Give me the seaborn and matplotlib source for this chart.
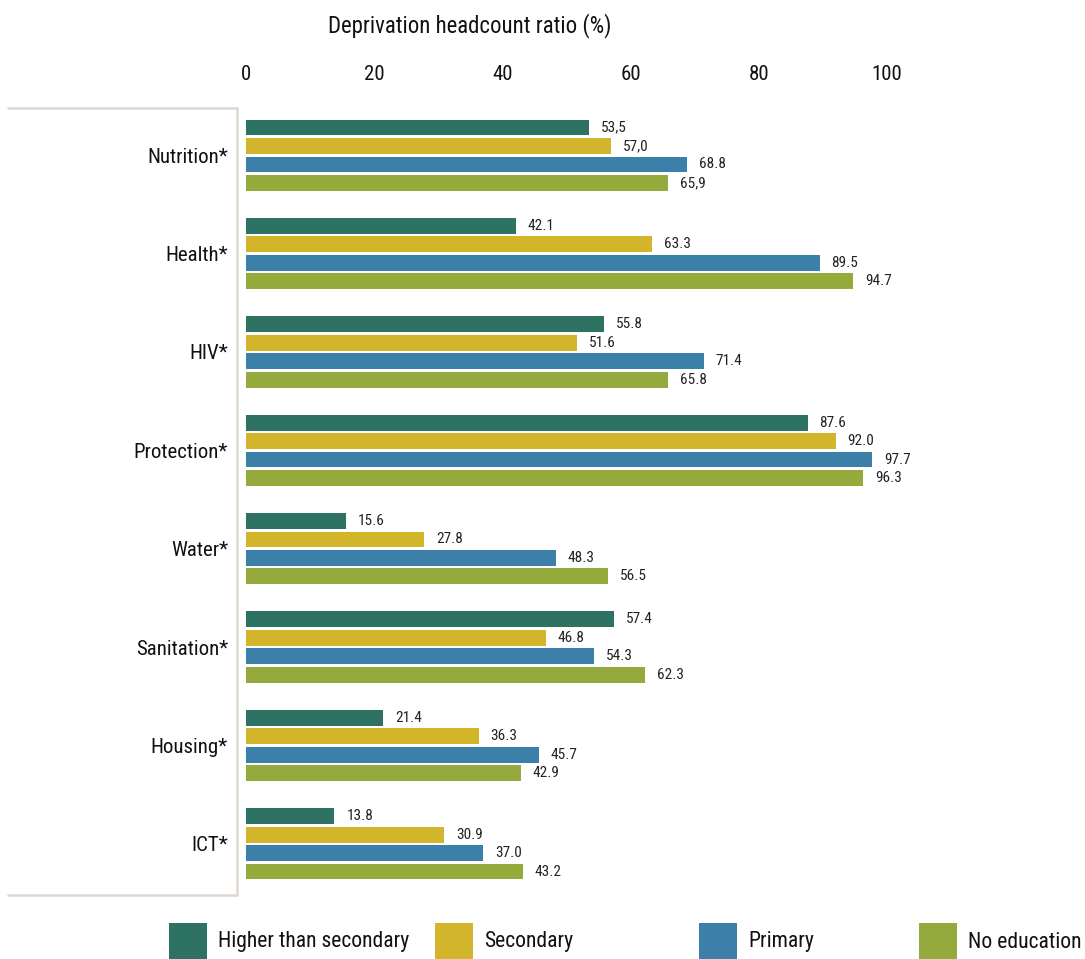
import pandas as pd
import seaborn as sns
import matplotlib.pyplot as plt
from matplotlib import font_manager
from matplotlib.lines import Line2D
from matplotlib.patches import Rectangle

# Datos
categorias = ["Nutrition*", "Health*", "HIV*", "Protection*", "Water*",
              "Sanitation*", "Housing*", "ICT*"]
niveles = ["Higher than secondary", "Secondary", "Primary", "No education"]

higher = [53.5, 42.1, 55.8, 87.6, 15.6, 57.4, 21.4, 13.8]
secondary = [57.0, 63.3, 51.6, 92.0, 27.8, 46.8, 36.3, 30.9]
primary = [68.8, 89.5, 71.4, 97.7, 48.3, 54.3, 45.7, 37.0]
no_education = [65.9, 94.7, 65.8, 96.3, 56.5, 62.3, 42.9, 43.2]

# Etiquetas tal como aparecen (algunas con coma decimal)
higher_labels = ["53,5", "42.1", "55.8", "87.6", "15.6", "57.4", "21.4", "13.8"]
secondary_labels = ["57,0", "63.3", "51.6", "92.0", "27.8", "46.8", "36.3", "30.9"]
primary_labels = ["68.8", "89.5", "71.4", "97.7", "48.3", "54.3", "45.7", "37.0"]
no_education_labels = ["65,9", "94.7", "65.8", "96.3", "56.5", "62.3", "42.9", "43.2"]

colores = ["#2e7263", "#d3b52b", "#3c80a9", "#95aa3c"]
ticks_x = [0, 20, 40, 60, 80, 100]

series = [higher, secondary, primary, no_education]
etiquetas = [higher_labels, secondary_labels, primary_labels, no_education_labels]

df = pd.DataFrame({
    "categoria": categorias * 4,
    "nivel": [n for n in niveles for _ in categorias],
    "valor": [v for s in series for v in s],
})

# Fuente condensada (la primera que esté instalada)
nombres = {f.name for f in font_manager.fontManager.ttflist}
fuente = next(f for f in ["Roboto Condensed", "Archivo Narrow", "Barlow Semi Condensed",
                          "DejaVu Sans"] if f in nombres)
sns.set_style("white")
plt.rcParams["font.family"] = [fuente, "DejaVu Sans"]

W, H = 1085, 959
fig = plt.figure(figsize=(W / 100, H / 100), dpi=100)
ax = fig.add_axes([246 / W, 1 - 895 / H, (887 - 246) / W, (895 - 108) / H])

sns.barplot(data=df, y="categoria", x="valor", hue="nivel", order=categorias,
            hue_order=niveles, palette=colores, orient="h", width=0.75,
            gap=0.14, saturation=1, linewidth=0, legend=False, ax=ax)

for cont, labs in zip(ax.containers, etiquetas):
    ax.bar_label(cont, labels=labs, padding=8.5, fontsize=11, color="#222222")

ax.set_xlim(0, 100)
ax.set_ylim(7.52, -0.48)
ax.set_xticks(ticks_x)
ax.xaxis.tick_top()
ax.tick_params(axis="x", length=0, labelsize=15, pad=17, labelcolor="#111111")
ax.tick_params(axis="y", length=0, labelsize=15, pad=13, labelcolor="#111111")
ax.set_xlabel("")
ax.set_ylabel("")
sns.despine(ax=ax, left=True, bottom=True, top=True, right=True)

fig.text(470 / W, 1 - 26 / H, "Deprivation headcount ratio (%)", ha="center",
         va="center", fontsize=16.4, color="#111111")

# Marco a la izquierda
marco = "#ddd7cf"
for xs, ys in [([8, 237], [108, 108]), ([237, 237], [108, 895]),
               ([8, 237], [895, 895])]:
    fig.add_artist(Line2D([x / W for x in xs], [1 - y / H for y in ys],
                          transform=fig.transFigure, color=marco, lw=1.8))

# Leyenda
pos_leyenda = [169, 435, 699, 919]
for x0, nombre, c in zip(pos_leyenda, niveles, colores):
    fig.add_artist(Rectangle((x0 / W, 1 - 959 / H), 38 / W, 36 / H,
                             transform=fig.transFigure, color=c, lw=0))
    fig.text((x0 + 49) / W, 1 - 942 / H, nombre, ha="left", va="center",
             fontsize=15.6, color="#111111")

fig.savefig("out.png", dpi=100)
